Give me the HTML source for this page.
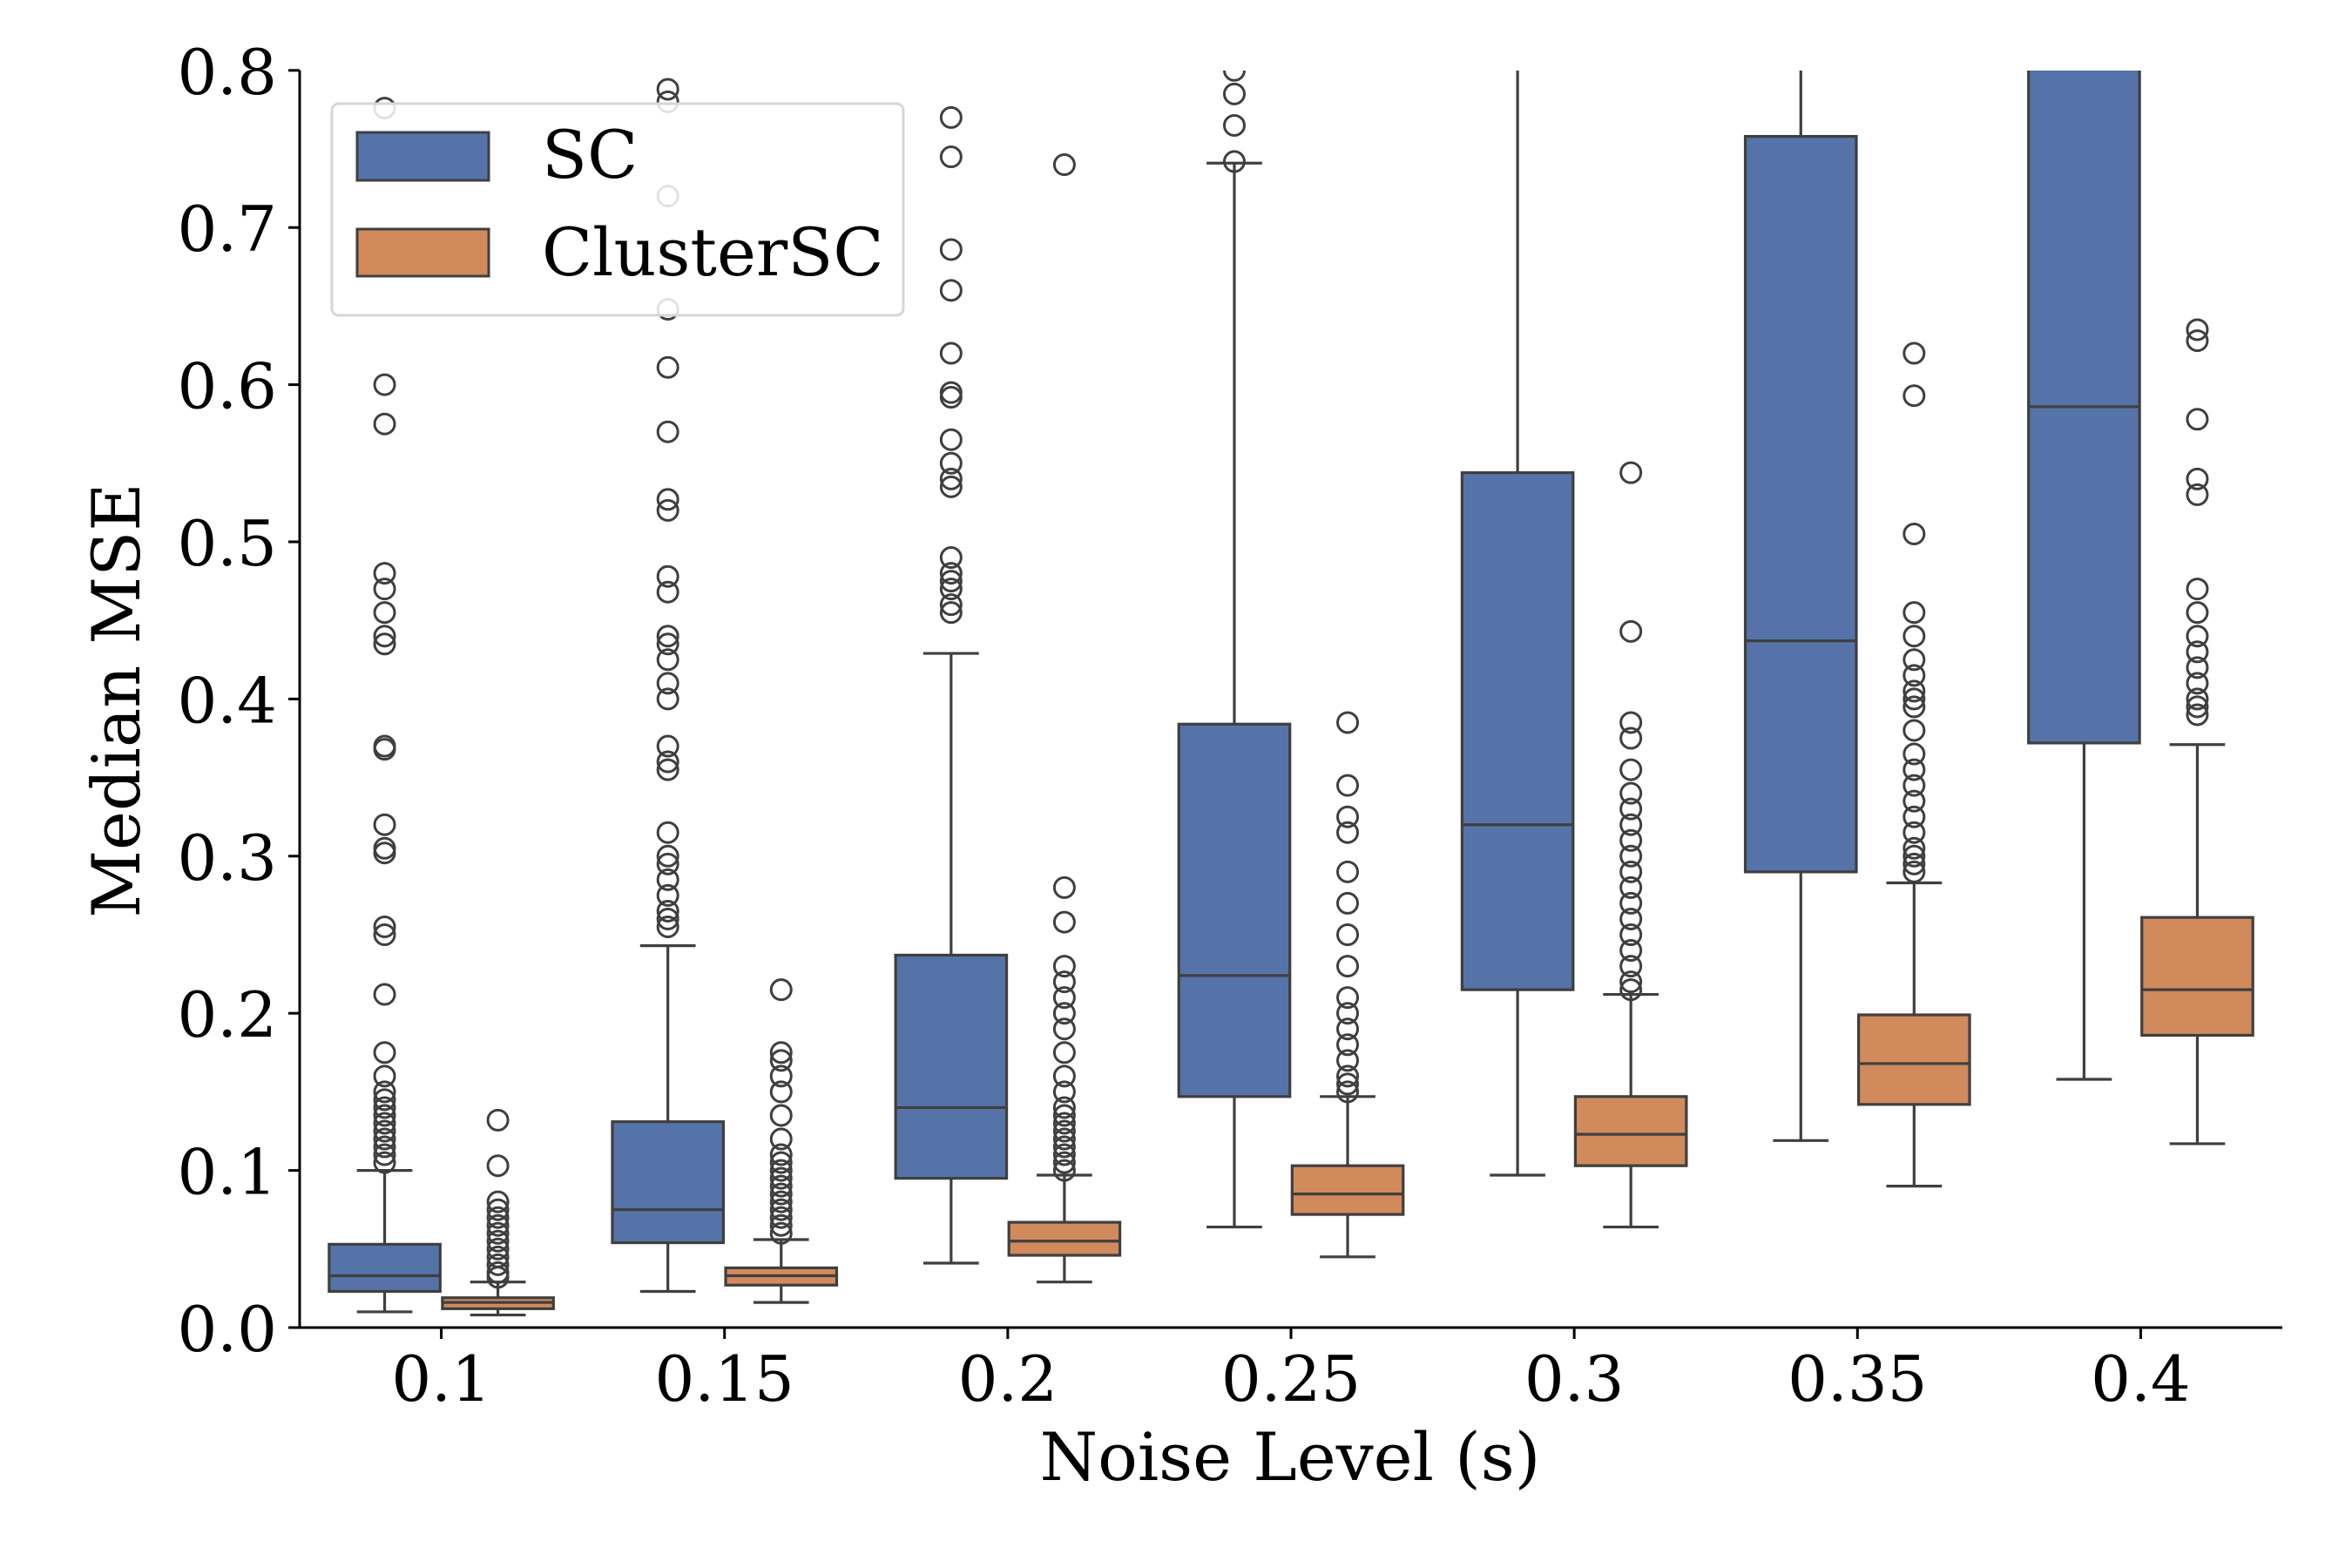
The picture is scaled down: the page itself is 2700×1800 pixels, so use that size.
<!DOCTYPE html>
<html><head><meta charset="utf-8">
<style>
html,body{margin:0;padding:0;background:#fff;}
svg{display:block;font-family:"DejaVu Serif","Liberation Serif",serif;}
</style></head>
<body>
<svg id="chart" width="2700" height="1800" viewBox="0 0 2700 1800" xmlns="http://www.w3.org/2000/svg">
<defs><clipPath id="plotclip"><rect x="344" y="81" width="2280" height="1445"/></clipPath></defs>
<g id="plot" clip-path="url(#plotclip)"></g>
<g id="axes"></g>
<g>
  <rect x="381" y="119" width="656" height="243" rx="8" fill="#fff" fill-opacity="0.85" stroke="#d6d6d6" stroke-width="3"/>
  <rect x="410" y="152" width="151" height="55" fill="#5573a8" stroke="#3f3f3f" stroke-width="3"/>
  <text x="622" y="204" font-size="76" fill="#000">SC</text>
  <rect x="410" y="263" width="151" height="54" fill="#d08a5c" stroke="#3f3f3f" stroke-width="3"/>
  <text x="622" y="316" font-size="76" fill="#000">ClusterSC</text>
</g>
<text x="1481" y="1699" font-size="76" text-anchor="middle">Noise Level (s)</text>
<text transform="translate(160,804) rotate(-90)" font-size="76" text-anchor="middle">Median MSE</text>
</svg>
<script>
const categories = ["0.1","0.15","0.2","0.25","0.3","0.35","0.4"];
const yTicks = [0,0.1,0.2,0.3,0.4,0.5,0.6,0.7,0.8];
const yTickLabels = ["0.0","0.1","0.2","0.3","0.4","0.5","0.6","0.7","0.8"];
// [whislo, q1, median, q3, whishi]
const scStats = [
  [0.01,0.023,0.033,0.053,0.1],
  [0.023,0.054,0.075,0.131,0.243],
  [0.041,0.095,0.14,0.237,0.429],
  [0.064,0.147,0.224,0.384,0.741],
  [0.097,0.215,0.32,0.544,0.95],
  [0.119,0.29,0.437,0.758,1.0],
  [0.158,0.372,0.586,0.85,1.1]
];
const clusterStats = [
  [0.008,0.012,0.016,0.019,0.029],
  [0.016,0.027,0.033,0.038,0.056],
  [0.029,0.046,0.055,0.067,0.097],
  [0.045,0.072,0.085,0.103,0.147],
  [0.064,0.103,0.123,0.147,0.212],
  [0.09,0.142,0.168,0.199,0.283],
  [0.117,0.186,0.215,0.261,0.371]
];
const scOutliers = [
  [0.776,0.6,0.575,0.48,0.47,0.455,0.44,0.435,0.37,0.368,0.32,0.305,0.302,0.255,0.25,0.212,0.175,0.16,0.15,0.145,0.14,0.135,0.13,0.125,0.12,0.115,0.11,0.105],
  [0.788,0.78,0.72,0.648,0.611,0.57,0.527,0.52,0.478,0.468,0.44,0.435,0.425,0.41,0.4,0.37,0.36,0.355,0.315,0.3,0.295,0.285,0.275,0.265,0.26,0.255],
  [0.77,0.745,0.686,0.66,0.62,0.595,0.592,0.565,0.55,0.54,0.535,0.49,0.48,0.475,0.47,0.46,0.455],
  [0.8,0.785,0.765,0.742],
  [],[],[]
];
const clusterOutliers = [
  [0.132,0.103,0.08,0.075,0.07,0.065,0.06,0.055,0.05,0.045,0.04,0.035,0.032],
  [0.215,0.175,0.17,0.16,0.15,0.135,0.12,0.11,0.105,0.1,0.095,0.09,0.085,0.08,0.075,0.07,0.065,0.06],
  [0.74,0.28,0.258,0.23,0.22,0.21,0.2,0.19,0.175,0.16,0.15,0.14,0.135,0.13,0.125,0.12,0.115,0.11,0.105,0.1],
  [0.385,0.345,0.325,0.315,0.29,0.27,0.25,0.23,0.21,0.2,0.19,0.18,0.17,0.16,0.155,0.15],
  [0.544,0.443,0.385,0.375,0.355,0.34,0.33,0.32,0.31,0.3,0.29,0.28,0.27,0.26,0.25,0.24,0.23,0.22,0.215],
  [0.62,0.593,0.505,0.455,0.44,0.425,0.415,0.405,0.4,0.395,0.38,0.365,0.355,0.345,0.335,0.325,0.315,0.305,0.3,0.295,0.29],
  [0.635,0.628,0.578,0.54,0.53,0.47,0.455,0.44,0.43,0.42,0.41,0.4,0.395,0.39]
];

const NS="http://www.w3.org/2000/svg";
const X0=344, X1=2620, Y0=1524, PER=1804; // px per 1.0
const band=(X1-X0)/categories.length;
function xScale(i){return X0+band*(i+0.5);}
function yScale(v){return Y0-v*PER;}
function mk(tag,attrs,parent){const e=document.createElementNS(NS,tag);for(const k in attrs)e.setAttribute(k,attrs[k]);parent.appendChild(e);return e;}
const plot=document.getElementById('plot'), axes=document.getElementById('axes');
const EDGE="#3f3f3f", BW=band*0.4*0.98;

function drawBox(i,off,s,outs,fill,nm){
  const cx=xScale(i)+off*band;
  const g=mk('g',{},plot);
  
  
  const w1=mk('line',{x1:cx,x2:cx,y1:yScale(s[0]),y2:yScale(s[1]),stroke:EDGE,'stroke-width':3.2},g);
  
  
  const w2=mk('line',{x1:cx,x2:cx,y1:yScale(s[3]),y2:yScale(s[4]),stroke:EDGE,'stroke-width':3.2},g);
  
  
  [s[0],s[4]].forEach(v=>{
    const c=mk('line',{x1:cx-BW/4,x2:cx+BW/4,y1:yScale(v),y2:yScale(v),stroke:EDGE,'stroke-width':3.2},g);
    
    
  });
  const r=mk('rect',{x:cx-BW/2,y:yScale(s[3]),width:BW,height:yScale(s[1])-yScale(s[3]),fill:fill,stroke:EDGE,'stroke-width':3.2},g);
  
  
  const m=mk('line',{x1:cx-BW/2,x2:cx+BW/2,y1:yScale(s[2]),y2:yScale(s[2]),stroke:EDGE,'stroke-width':3.2},g);
  
  
  outs.forEach(v=>{
    const c=mk('circle',{cx:cx,cy:yScale(v),r:11.5,fill:'none',stroke:EDGE,'stroke-width':3},g);
    
    
  });
}
categories.forEach((c,i)=>{
  drawBox(i,-0.2,scStats[i],scOutliers[i],"#5573a8","sc");
  drawBox(i,0.2,clusterStats[i],clusterOutliers[i],"#d08a5c","clustersc");
});
// spines
const ls=mk('line',{x1:X0,x2:X0,y1:yScale(0.8),y2:Y0+1.5,stroke:'#000','stroke-width':3},axes);


const bs=mk('line',{x1:X0-1.5,x2:X1,y1:Y0,y2:Y0,stroke:'#000','stroke-width':3},axes);


yTicks.forEach((v,i)=>{
  const t=mk('line',{x1:X0-13,x2:X0,y1:yScale(v),y2:yScale(v),stroke:'#000','stroke-width':3},axes);
  
  
  const tx=mk('text',{x:X0-26,y:yScale(v)+27,'font-size':72,'text-anchor':'end'},axes);
  tx.textContent=yTickLabels[i];
  
  
});
categories.forEach((c,i)=>{
  const t=mk('line',{x1:xScale(i),x2:xScale(i),y1:Y0,y2:Y0+13,stroke:'#000','stroke-width':3},axes);
  
  
  const tx=mk('text',{x:xScale(i),y:1608,'font-size':72,'text-anchor':'middle'},axes);
  tx.textContent=c;
  
  
});
</script>
</body></html>
